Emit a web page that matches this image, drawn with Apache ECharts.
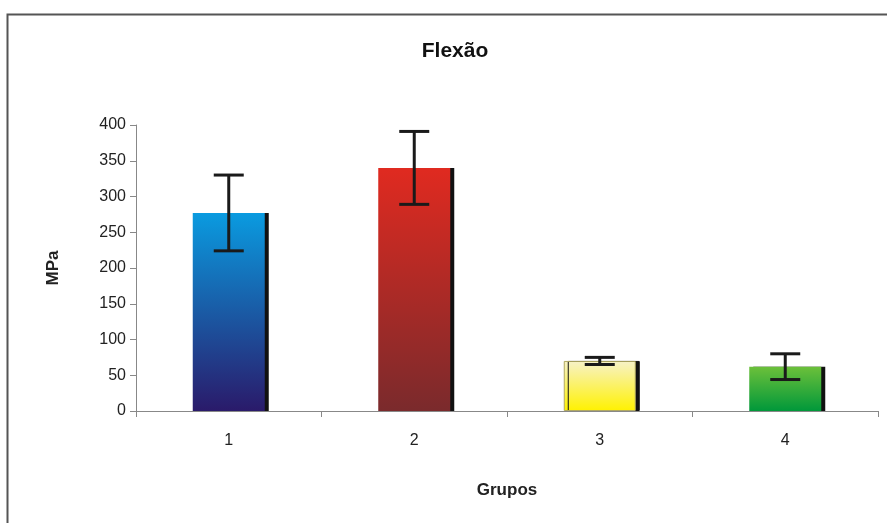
<!DOCTYPE html>
<html><head><meta charset="utf-8">
<script src="https://cdn.jsdelivr.net/npm/echarts@6/dist/echarts.min.js"></script>
<style>html,body{margin:0;padding:0;background:#fff}#c{width:887px;height:523px}</style>
</head><body><div id="c"></div>
<script>
var categories = ['1', '2', '3', '4'];
var means = [277, 340, 70, 62];
var errors = [53, 51, 5, 18];
var yTicks = [0, 50, 100, 150, 200, 250, 300, 350, 400];
var topColors = ['#0a9be0', '#e02a20', '#f7f2c8', '#6cc03a'];
var bottomColors = ['#2a1a6a', '#7a2a2c', '#fff200', '#00983a'];

var chart = echarts.init(document.getElementById('c'), null, {renderer: 'canvas'});
var font = '"Liberation Sans", Arial, sans-serif';
chart.setOption({
  animation: false,
  backgroundColor: '#fff',
  title: {text: 'Flexão', left: 450, top: 36, textAlign: 'center',
    textStyle: {fontFamily: font, fontSize: 21, fontWeight: 'bold', color: '#111'}},
  graphic: [{type: 'polyline', shape: {points: [[7.5, 530], [7.5, 14.5], [895, 14.5]]},
    style: {stroke: '#555', lineWidth: 2, fill: null}}],
  grid: {left: 136, right: 9, top: 125, bottom: 112},
  xAxis: {type: 'category', data: categories,
    axisLine: {lineStyle: {color: '#888', width: 1}},
    axisTick: {show: true, alignWithLabel: false, length: 6, lineStyle: {color: '#888'}},
    axisLabel: {fontFamily: font, fontSize: 16, color: '#222', margin: 22},
    name: 'Grupos', nameLocation: 'middle', nameGap: 71,
    nameTextStyle: {fontFamily: font, fontSize: 17, fontWeight: 'bold', color: '#222'}},
  yAxis: {type: 'value', min: 0, max: 400, interval: 50,
    axisLine: {show: true, lineStyle: {color: '#888'}},
    axisTick: {show: true, inside: false, length: 6, lineStyle: {color: '#888'}},
    splitLine: {show: false},
    axisLabel: {fontFamily: font, fontSize: 16, color: '#222', margin: 10,
      formatter: function (v) { return yTicks.indexOf(v) >= 0 ? String(v) : ''; }},
    name: 'MPa', nameLocation: 'middle', nameGap: 74, nameRotate: 90,
    nameTextStyle: {fontFamily: font, fontSize: 17, fontWeight: 'bold', color: '#222'}},
  series: [{
    type: 'bar', barWidth: 72,
    data: means.map(function (v, i) {
      return {value: v, itemStyle: {
        color: {type: 'linear', x: 0, y: 0, x2: 0, y2: 1,
          colorStops: [{offset: 0, color: topColors[i]}, {offset: 1, color: bottomColors[i]}]},
        borderColor: i === 2 ? '#b0a860' : 'transparent', borderWidth: i === 2 ? 1 : 0,
        shadowColor: '#111', shadowOffsetX: 4, shadowOffsetY: 0, shadowBlur: 0}};
    })
  }, {
    type: 'custom', z: 10,
    data: means.map(function (v, i) { return [i, v - errors[i], v + errors[i]]; }),
    renderItem: function (params, api) {
      var lo = api.coord([api.value(0), api.value(1)]);
      var hi = api.coord([api.value(0), api.value(2)]);
      var x = lo[0], hw = 15;
      var st = {stroke: '#1a1a1a', lineWidth: 3};
      return {type: 'group', children: [
        {type: 'line', shape: {x1: x, y1: lo[1], x2: x, y2: hi[1]}, style: st},
        {type: 'line', shape: {x1: x - hw, y1: lo[1], x2: x + hw, y2: lo[1]}, style: st},
        {type: 'line', shape: {x1: x - hw, y1: hi[1], x2: x + hw, y2: hi[1]}, style: st}
      ]};
    }
  }]
});
</script></body></html>
